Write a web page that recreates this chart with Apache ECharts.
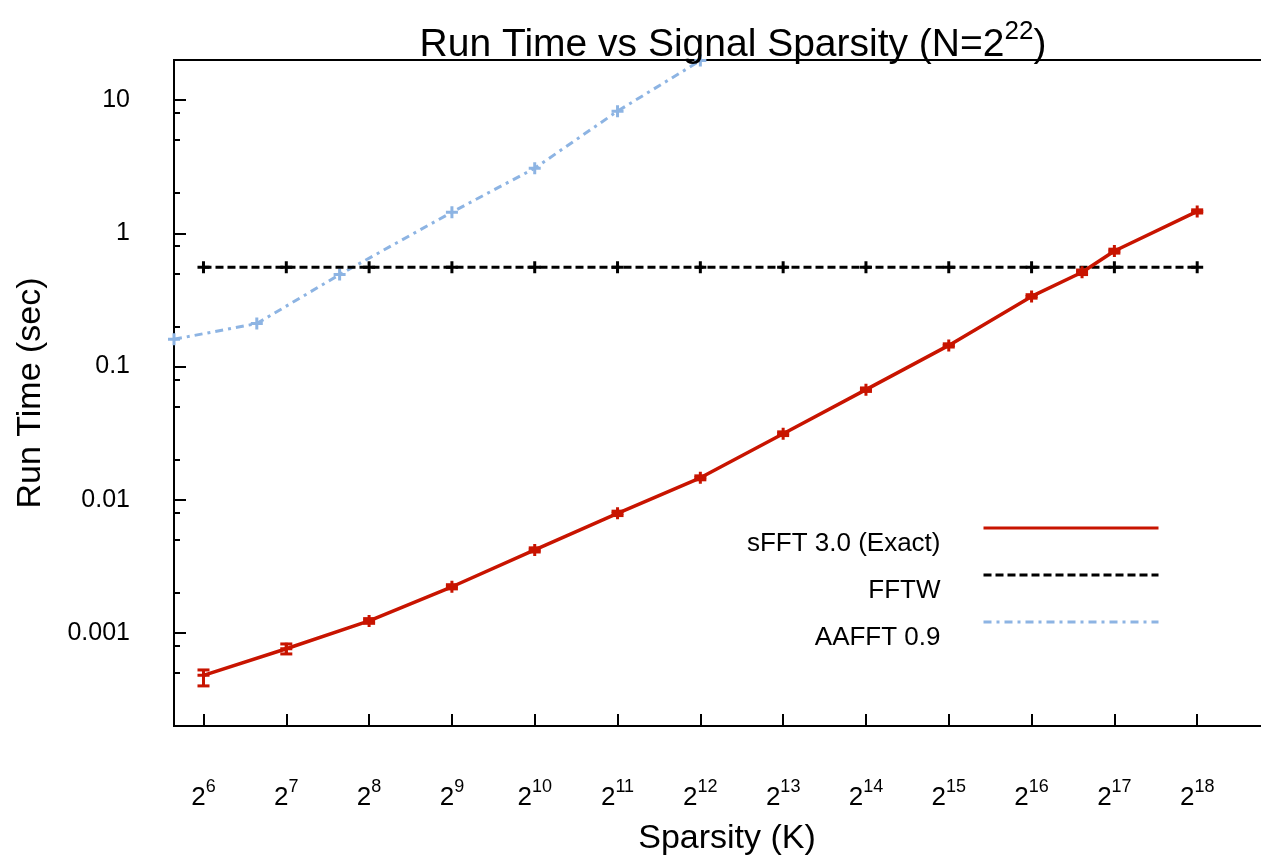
<!DOCTYPE html>
<html style="height: 100%">
<head>
    <meta charset="UTF-8">
    <script src="https://cdn.jsdelivr.net/npm/echarts@6/dist/echarts.min.js"></script>
    <style type="text/css">
        html, body { margin: 0; padding: 0; background: #ffffff; overflow: hidden; }
        #paint { width: 1261px; height: 861px; }
    </style>
</head>
<body>
<div id="paint"></div>
<script>
    // sparsity K values and run times (sec)
    var sfftK = [64, 128, 256, 512, 1024, 2048, 4096, 8192, 16384, 32768, 65536, 100000, 131072, 262144];
    var sfftTime = [0.00048, 0.00076, 0.00123, 0.00222, 0.0042, 0.0079, 0.0146, 0.0313, 0.067, 0.144, 0.336, 0.51, 0.736, 1.46];
    var sfftLow = [0.00040, 0.000695, 0.00118, 0.00214, 0.00405, 0.0076, 0.0141, 0.0303, 0.065, 0.140, 0.326, 0.49, 0.71, 1.42];
    var sfftHigh = [0.000527, 0.000826, 0.00128, 0.00230, 0.00435, 0.0082, 0.0151, 0.0323, 0.069, 0.148, 0.346, 0.53, 0.76, 1.50];

    var fftwK = [64, 128, 256, 512, 1024, 2048, 4096, 8192, 16384, 32768, 65536, 131072, 262144];
    var fftwTime = [0.555, 0.555, 0.555, 0.555, 0.555, 0.555, 0.555, 0.555, 0.555, 0.555, 0.555, 0.555, 0.555];

    var aafftK = [50, 100, 200, 512, 1024, 2048, 4096];
    var aafftTime = [0.16, 0.21, 0.49, 1.44, 3.08, 8.26, 19.8];

    var xTicks = [64, 128, 256, 512, 1024, 2048, 4096, 8192, 16384, 32768, 65536, 131072, 262144];
    var yTicks = [0.001, 0.01, 0.1, 1, 10];
    var yMinorTicks = [0.0005, 0.0008, 0.002, 0.005, 0.008, 0.02, 0.05, 0.08, 0.2, 0.5, 0.8, 2, 5, 8];

    var RED = '#c81400', BLUE = '#8db4e3', BLACK = '#000000';
    var FONT = 'Liberation Sans';
    var PLUS = 'path://M4.5,0h3v4.5h4.5v3h-4.5v4.5h-3v-4.5h-4.5v-3h4.5z';

    function pairs(xs, ys) {
        return xs.map(function (x, i) { return [x, ys[i]]; });
    }

    var chart = echarts.init(document.getElementById('paint'));
    chart.setOption({
        animation: false,
        backgroundColor: '#ffffff',
        textStyle: { fontFamily: FONT },
        title: {
            text: 'Run Time vs Signal Sparsity (N=2{sup|22})',
            left: 728,
            textAlign: 'center',
            top: 14,
            textStyle: {
                fontFamily: FONT, fontSize: 39, fontWeight: 'normal', color: '#000',
                lineHeight: 52,
                rich: {
                    sup: { fontFamily: FONT, fontSize: 26, verticalAlign: 'top', color: '#000' }
                }
            }
        },
        grid: {
            left: 174, top: 60, width: 1106, bottom: 135,
            containLabel: false,
            outerBoundsMode: 'none',
            show: true, borderColor: BLACK, borderWidth: 2
        },
        legend: {
            data: ['sFFT 3.0 (Exact)', 'FFTW', 'AAFFT 0.9'],
            orient: 'vertical',
            align: 'right',
            right: 101,
            top: 499,
            padding: 0,
            itemWidth: 175,
            itemHeight: 14,
            itemGap: -11,
            selectedMode: false,
            itemStyle: { color: 'rgba(0,0,0,0)', borderWidth: 0, opacity: 0 },
            lineStyle: { width: 3 },
            formatter: '{t|{name}}',
            textStyle: {
                fontFamily: FONT, fontSize: 26, color: '#000',
                rich: {
                    t: { fontFamily: FONT, fontSize: 26, color: '#000', lineHeight: 47, padding: [32, 38, 0, 0] }
                }
            }
        },
        xAxis: {
            type: 'log',
            logBase: 2,
            min: 50,
            max: 524288,
            name: 'Sparsity (K)',
            nameLocation: 'middle',
            nameGap: 96,
            nameTextStyle: { fontFamily: FONT, fontSize: 34, color: '#000' },
            axisLine: { show: false },
            splitLine: { show: false },
            axisTick: {
                customValues: xTicks, inside: true, length: 12,
                lineStyle: { color: BLACK, width: 2 }
            },
            axisLabel: {
                customValues: xTicks,
                margin: 52,
                color: '#000',
                formatter: function (v) {
                    return '{base|2}{sup|' + Math.round(Math.log2(v)) + '}';
                },
                rich: {
                    base: { fontFamily: FONT, fontSize: 26, lineHeight: 40, color: '#000' },
                    sup: { fontFamily: FONT, fontSize: 18, verticalAlign: 'top', color: '#000' }
                }
            }
        },
        yAxis: [
            {
                type: 'log',
                logBase: 10,
                min: 0.0002,
                max: 20,
                position: 'left',
                name: 'Run Time (sec)',
                nameLocation: 'middle',
                nameGap: 126,
                nameTextStyle: { fontFamily: FONT, fontSize: 34, color: '#000' },
                axisLine: { show: false },
                splitLine: { show: false },
                axisTick: {
                    customValues: yTicks, inside: true, length: 12,
                    lineStyle: { color: BLACK, width: 2 }
                },
                axisLabel: {
                    customValues: yTicks,
                    margin: 44,
                    fontFamily: FONT,
                    fontSize: 25,
                    color: '#000',
                    formatter: function (v) { return String(+v.toPrecision(3)); }
                }
            },
            {
                type: 'log',
                logBase: 10,
                min: 0.0002,
                max: 20,
                position: 'left',
                axisLine: { show: false },
                splitLine: { show: false },
                axisLabel: { show: false },
                axisTick: {
                    customValues: yMinorTicks, inside: true, length: 6,
                    lineStyle: { color: BLACK, width: 2 }
                }
            }
        ],
        series: [
            {
                name: 'AAFFT 0.9',
                type: 'line',
                data: pairs(aafftK, aafftTime),
                symbol: PLUS,
                symbolSize: 12,
                itemStyle: { color: BLUE },
                lineStyle: { color: BLUE, width: 3, type: [8, 5, 3, 5] },
                z: 2
            },
            {
                name: 'FFTW',
                type: 'line',
                data: pairs(fftwK, fftwTime),
                symbol: PLUS,
                symbolSize: 12,
                itemStyle: { color: BLACK },
                lineStyle: { color: BLACK, width: 3, type: [8, 4] },
                z: 3
            },
            {
                name: 'sFFT 3.0 (Exact)',
                type: 'line',
                data: pairs(sfftK, sfftTime),
                symbol: PLUS,
                symbolSize: 12,
                itemStyle: { color: RED },
                lineStyle: { color: RED, width: 3.5 },
                z: 4
            },
            {
                name: 'sFFT error',
                type: 'custom',
                data: sfftK.map(function (k, i) { return [k, sfftLow[i], sfftHigh[i]]; }),
                encode: { x: 0, y: [1, 2] },
                z: 5,
                renderItem: function (params, api) {
                    var lo = api.coord([api.value(0), api.value(1)]);
                    var hi = api.coord([api.value(0), api.value(2)]);
                    var w = 6;
                    var st = { stroke: RED, lineWidth: 3 };
                    return {
                        type: 'group',
                        children: [
                            { type: 'line', shape: { x1: lo[0], y1: lo[1], x2: hi[0], y2: hi[1] }, style: st },
                            { type: 'line', shape: { x1: lo[0] - w, y1: lo[1], x2: lo[0] + w, y2: lo[1] }, style: st },
                            { type: 'line', shape: { x1: hi[0] - w, y1: hi[1], x2: hi[0] + w, y2: hi[1] }, style: st }
                        ]
                    };
                }
            }
        ]
    });
</script>
</body>
</html>
